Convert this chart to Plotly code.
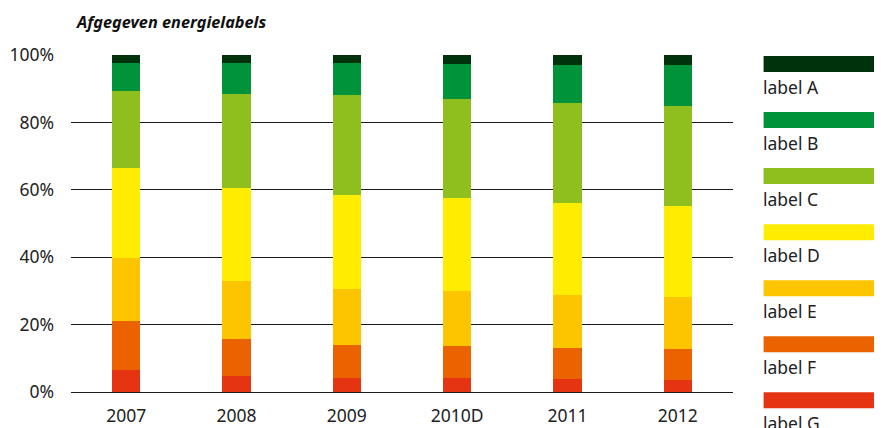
import plotly.graph_objects as go

years = ["2007", "2008", "2009", "2010D", "2011", "2012"]
label_names = ["label A", "label B", "label C", "label D", "label E", "label F", "label G"]
label_colors = ["#00320c", "#00933a", "#8fbe1f", "#ffec00", "#fdc500", "#eb6200", "#e53412"]

# share (%) per label, per year
label_A = [2.4, 2.4, 2.4, 2.7, 3.0, 3.0]
label_B = [8.3, 9.2, 9.5, 10.4, 11.3, 12.1]
label_C = [22.9, 27.9, 29.7, 29.4, 29.7, 29.8]
label_D = [26.7, 27.6, 27.9, 27.6, 27.3, 27.0]
label_E = [18.7, 17.3, 16.6, 16.3, 15.7, 15.4]
label_F = [14.6, 10.9, 9.8, 9.5, 9.2, 9.2]
label_G = [6.4, 4.7, 4.1, 4.1, 3.8, 3.5]

series = [label_A, label_B, label_C, label_D, label_E, label_F, label_G]

# the page body has an 8px margin; the figure is shrunk and shifted to compensate
OFF = 8
W, H = 882 - OFF, 428 - OFF
L, R = 71 - OFF, 733.4 - OFF
T, B = 55 - OFF, 391.7 - OFF

def px_x(px):
    return (px - OFF - L) / (R - L)

def px_y(py):
    return (B - (py - OFF)) / (B - T)

FONT = "Noto Sans, Open Sans, sans-serif"
TXT = "#222222"

fig = go.Figure()
for name, vals, col in reversed(list(zip(label_names, series, label_colors))):
    fig.add_trace(go.Bar(x=years, y=vals, name=name, marker=dict(color=col, line=dict(width=0)),
                         showlegend=False))

shapes = []
annotations = []
for i, (name, col) in enumerate(zip(label_names, label_colors)):
    top = 56 + i * 56
    shapes.append(dict(type="rect", xref="paper", yref="paper",
                       x0=px_x(764), x1=px_x(884), y0=px_y(top), y1=px_y(top + 16),
                       fillcolor=col, line=dict(width=0), layer="above"))
    annotations.append(dict(text=name, xref="paper", yref="paper", x=px_x(761), y=px_y(top + 31),
                            xanchor="left", yanchor="middle", showarrow=False,
                            font=dict(family=FONT, size=17.5, color=TXT)))

annotations.append(dict(text="<b><i>Afgegeven energielabels</i></b>", xref="paper", yref="paper",
                        x=px_x(74), y=px_y(22), xanchor="left", yanchor="middle", showarrow=False,
                        font=dict(family=FONT, size=16.3, color="#111111")))

fig.update_layout(
    width=W, height=H,
    margin=dict(l=L, r=W - R, t=T, b=H - B, pad=0, autoexpand=False),
    barmode="stack",
    bargap=0.746,
    plot_bgcolor="white", paper_bgcolor="white",
    font=dict(family=FONT, size=17.5, color=TXT),
    shapes=shapes, annotations=annotations,
    showlegend=False,
)
fig.update_xaxes(range=[-0.5, 5.5], showgrid=False, zeroline=False, showline=False, automargin=False,
                 ticks="", ticklabelstandoff=11, tickfont=dict(size=17.5, color=TXT))
fig.update_yaxes(range=[0, 100], dtick=20, ticksuffix="%", showgrid=True, gridcolor="#1a1a1a",
                 gridwidth=1.2, zeroline=True, zerolinecolor="#1a1a1a", zerolinewidth=1.2,
                 automargin=False,
                 showline=False, ticks="", ticklabelstandoff=16, tickfont=dict(size=17.5, color=TXT))

fig.write_html("out.html")
